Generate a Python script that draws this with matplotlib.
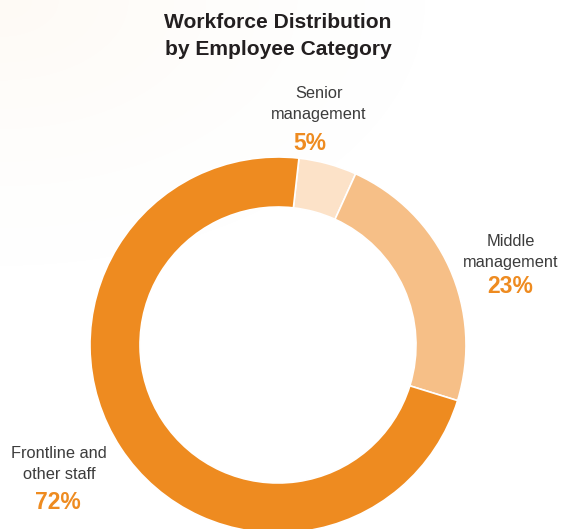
import matplotlib.pyplot as plt
import numpy as np

categories = ["Senior\nmanagement", "Middle\nmanagement", "Frontline and\nother staff"]
shares = [5, 23, 72]
share_labels = ["5%", "23%", "72%"]
colors = ["#FCE2C8", "#F6BF87", "#EE8B20"]

W, H = 566, 529
plt.rcParams['font.family'] = ['Liberation Sans', 'DejaVu Sans']

fig = plt.figure(figsize=(W / 100, H / 100), dpi=100)
ax = fig.add_axes([0, 0, 1, 1])

# faint warm wash in the top-left corner
yy, xx = np.mgrid[0:H, 0:W]
d = np.sqrt((xx / 480.0) ** 2 + (yy / 300.0) ** 2)
a = np.clip(1 - d, 0, 1) ** 1.5 * 0.10
bg = np.ones((H, W, 4))
bg[..., 0] = 0.99
bg[..., 1] = 0.80
bg[..., 2] = 0.60
bg[..., 3] = a
ax.imshow(bg, extent=(0, W, 0, H), zorder=0, aspect='auto')

cx, cy = 278, H - 345
ax.pie(shares, colors=colors, startangle=83.6, counterclock=False,
       center=(cx, cy), radius=188,
       wedgeprops=dict(width=50, edgecolor="white", linewidth=1.2))

ax.set_xlim(0, W)
ax.set_ylim(0, H)
ax.set_aspect('auto')
ax.axis('off')

# title
ax.text(278, H - 28, "Workforce Distribution", ha='center', va='baseline',
        fontsize=15.1, fontweight='bold', color='#231F20')
ax.text(278, H - 55, "by Employee Category", ha='center', va='baseline',
        fontsize=15.1, fontweight='bold', color='#231F20')

# labels: (x, baseline line1, baseline line2, x pct, baseline pct)
pos = [(319, 98, 119, 310, 150),
       (511, 246, 267, 510, 293),
       (59, 458, 479, 58, 509)]
for cat, lab, (x, b1, b2, xp, bp) in zip(categories, share_labels, pos):
    l1, l2 = cat.split("\n")
    ax.text(x, H - b1, l1, ha='center', va='baseline', fontsize=11.8,
            color='#3C3C3C')
    ax.text(x, H - b2, l2, ha='center', va='baseline', fontsize=11.8,
            color='#3C3C3C')
    ax.text(xp, H - bp, lab, ha='center', va='baseline', fontsize=16.5,
            fontweight='bold', color='#EE8B20')

fig.savefig("out.png", dpi=100)
